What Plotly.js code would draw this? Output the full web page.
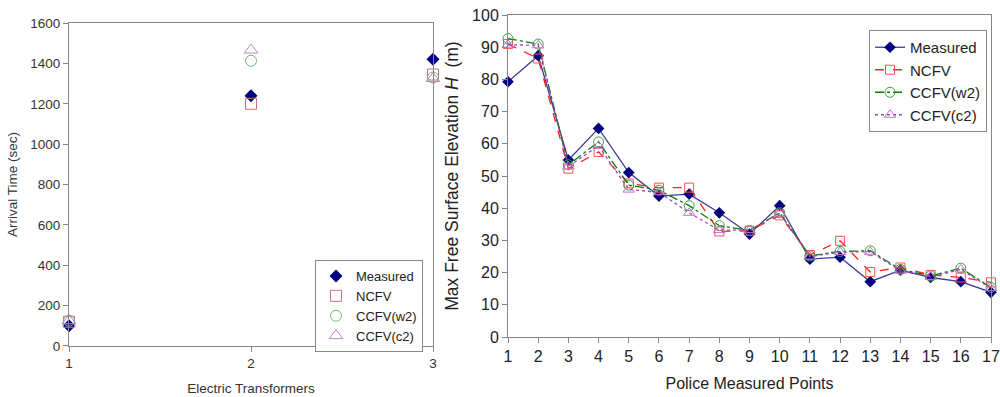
<!DOCTYPE html>
<html><head><meta charset="utf-8">
<script src="https://cdn.plot.ly/plotly-3.0.1.min.js"></script>
<style>html,body{margin:0;padding:0;background:#fff}#chart{width:1000px;height:397px}</style>
</head><body><div id="chart"></div>
<script>
// Left chart: arrival time at electric transformers
const transformers = [1, 2, 3];
const arrMeasured = [100, 1240, 1420];
const arrNCFV = [120, 1200, 1345];
const arrCCFVw2 = [125, 1413, 1330];
const arrCCFVc2 = [125, 1466, 1325];

// Right chart: max free surface elevation at police measured points
const points = [1,2,3,4,5,6,7,8,9,10,11,12,13,14,15,16,17];
const hMeasured = [79.3, 87.4, 55.0, 64.8, 51.1, 43.8, 44.4, 38.6, 32.0, 40.8, 24.2, 24.8, 17.2, 20.8, 18.5, 17.2, 13.9];
const hNCFV    = [91.0, 86.5, 52.3, 57.5, 47.7, 46.4, 46.4, 32.8, 33.0, 37.8, 25.5, 29.9, 20.2, 21.6, 19.3, 18.5, 17.0];
const hCCFVw2  = [92.7, 91.0, 53.5, 60.6, 47.2, 45.6, 40.8, 34.6, 33.1, 38.6, 25.2, 26.6, 26.8, 21.0, 19.0, 21.4, 15.4];
const hCCFVc2  = [90.8, 90.6, 53.0, 59.4, 45.8, 45.0, 38.6, 33.2, 33.2, 38.4, 25.0, 26.4, 26.5, 20.6, 18.7, 21.0, 15.2];

const seriesNames = ['Measured', 'NCFV', 'CCFV(w2)', 'CCFV(c2)'];

const axisColor = '#868686';
const font = {family: 'Liberation Sans, Arial, sans-serif', color: '#222'};

const traces = [
  {x: transformers, y: arrMeasured, name: seriesNames[0], type: 'scatter', mode: 'markers',
   marker: {symbol: 'diamond', size: 10, color: '#000080'}, xaxis: 'x', yaxis: 'y', legend: 'legend', cliponaxis: false},
  {x: transformers, y: arrNCFV, name: seriesNames[1], type: 'scatter', mode: 'markers',
   marker: {symbol: 'square-open', size: 11, color: '#d07070', line: {width: 1}}, xaxis: 'x', yaxis: 'y', legend: 'legend', cliponaxis: false},
  {x: transformers, y: arrCCFVw2, name: seriesNames[2], type: 'scatter', mode: 'markers',
   marker: {symbol: 'circle-open', size: 11, color: '#70b870', line: {width: 1}}, xaxis: 'x', yaxis: 'y', legend: 'legend', cliponaxis: false},
  {x: transformers, y: arrCCFVc2, name: seriesNames[3], type: 'scatter', mode: 'markers',
   marker: {symbol: 'triangle-up-open', size: 12, color: '#b888c0', line: {width: 1}}, xaxis: 'x', yaxis: 'y', legend: 'legend', cliponaxis: false},

  {x: points, y: hMeasured, name: seriesNames[0], type: 'scatter', mode: 'lines+markers',
   line: {color: '#3a3a9a', width: 1.3}, marker: {symbol: 'diamond', size: 9, color: '#000080'},
   xaxis: 'x2', yaxis: 'y2', legend: 'legend2', cliponaxis: false},
  {x: points, y: hNCFV, name: seriesNames[1], type: 'scatter', mode: 'lines+markers',
   line: {color: '#ff2020', width: 1.3, dash: 'dash'}, marker: {symbol: 'square-open', size: 9, color: '#ff5050', line: {width: 1}},
   xaxis: 'x2', yaxis: 'y2', legend: 'legend2', cliponaxis: false},
  {x: points, y: hCCFVw2, name: seriesNames[2], type: 'scatter', mode: 'lines+markers',
   line: {color: '#008000', width: 1.3, dash: 'dashdot'}, marker: {symbol: 'circle-open', size: 10, color: '#40a040', line: {width: 1}},
   xaxis: 'x2', yaxis: 'y2', legend: 'legend2', cliponaxis: false},
  {x: points, y: hCCFVc2, name: seriesNames[3], type: 'scatter', mode: 'lines+markers',
   line: {color: '#a040c0', width: 1.3, dash: 'dot'}, marker: {symbol: 'triangle-up-open', size: 10, color: '#c070c8', line: {width: 1}},
   xaxis: 'x2', yaxis: 'y2', legend: 'legend2', cliponaxis: false}
];

const baseAxis = {showgrid: false, zeroline: false, showline: true, mirror: true, linecolor: axisColor, linewidth: 1,
  ticks: 'outside', ticklen: 5, tickcolor: axisColor, fixedrange: true};

const layout = {
  width: 1000, height: 397,
  margin: {l: 0, r: 0, t: 0, b: 0},
  paper_bgcolor: '#fff', plot_bgcolor: '#fff',
  font: font,
  showlegend: true,
  xaxis: Object.assign({}, baseAxis, {domain: [0.069, 0.433], range: [1, 3], tickvals: transformers,
    tickfont: {size: 13.5, color: '#333'},
    title: {text: 'Electric Transformers', font: {size: 13.5, color: '#333'}, standoff: 13}, anchor: 'y'}),
  yaxis: Object.assign({}, baseAxis, {domain: [0.1285, 0.942], range: [0, 1600], dtick: 200,
    tickfont: {size: 13.5, color: '#333'},
    title: {text: 'Arrival Time (sec)', font: {size: 13.5, color: '#333'}, standoff: 9}, anchor: 'x'}),
  xaxis2: Object.assign({}, baseAxis, {domain: [0.508, 0.991], range: [1, 17], dtick: 1,
    tickfont: {size: 16, color: '#222'},
    title: {text: 'Police Measured Points', font: {size: 16, color: '#222'}, standoff: 13}, anchor: 'y2'}),
  yaxis2: Object.assign({}, baseAxis, {domain: [0.151, 0.962], range: [0, 100], dtick: 10,
    tickfont: {size: 16, color: '#222'},
    title: {text: 'Max Free Surface Elevation <i>H</i>&nbsp;&nbsp;(m)', font: {size: 17.5, color: '#222'}, standoff: 8}, anchor: 'x2'}),
  legend: {x: 0.315, y: 1 - 260/397, xanchor: 'left', yanchor: 'top', bgcolor: '#fff',
    bordercolor: '#888', borderwidth: 1, font: {size: 13, color: '#222'}, tracegroupgap: 0, itemwidth: 30},
  legend2: {x: 0.869, y: 1 - 30/397, xanchor: 'left', yanchor: 'top', bgcolor: '#fff',
    bordercolor: '#888', borderwidth: 1, font: {size: 15, color: '#222'}, tracegroupgap: 0, itemwidth: 30}
};

Plotly.newPlot('chart', traces, layout, {displayModeBar: false, staticPlot: true});
</script></body></html>
